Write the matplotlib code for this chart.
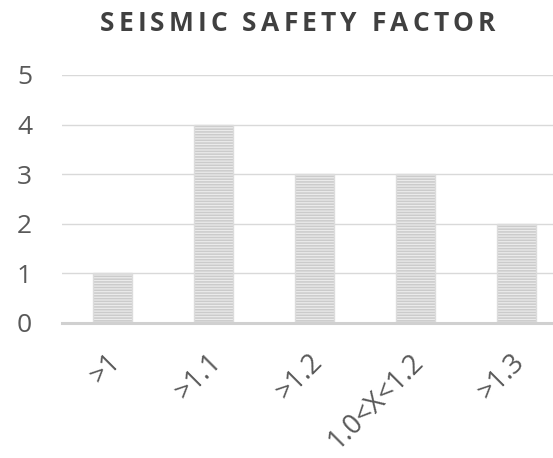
import matplotlib
matplotlib.use("Agg")
import matplotlib.pyplot as plt
from matplotlib.transforms import ScaledTranslation

categories = [">1", ">1.1", ">1.2", "1.0<X<1.2", ">1.3"]
values = [1, 4, 3, 3, 2]
yticks = [0, 1, 2, 3, 4, 5]
title = "SEISMIC SAFETY FACTOR"

plt.rcParams['font.family'] = ['Open Sans', 'DejaVu Sans']
plt.rcParams['hatch.linewidth'] = 1.1

W, H = 553, 458
fig = plt.figure(figsize=(W / 100, H / 100), dpi=100)
ax = fig.add_axes([62 / W, 1 - 323 / H, 1 - 62 / W, (323 - 75) / H])

x = list(range(len(categories)))
ax.bar(x, values, width=0.38, color="#ebebeb", edgecolor="#cbcbcb",
       hatch="------", linewidth=0, zorder=2)
ax.bar(x, values, width=0.38, fill=False, edgecolor="#dcdcdc",
       linewidth=1.0, zorder=3)

ax.set_xlim(-0.5, (W - 62) / 101 - 0.5)
ax.set_ylim(0, 5)
ax.set_yticks(yticks)
ax.set_yticklabels([str(v) for v in yticks], fontsize=19, color="#595959")
ax.tick_params(axis='y', length=0, pad=21.5)
ax.set_xticks(x)
ax.set_xticklabels(categories, rotation=45, ha='right', va='center',
                   rotation_mode='anchor', fontsize=19.5, color="#595959")
ax.tick_params(axis='x', length=0, pad=25)
shift = ScaledTranslation(4 / 100, 0, fig.dpi_scale_trans)
for lbl in ax.get_xticklabels():
    lbl.set_transform(lbl.get_transform() + shift)

ax.grid(axis='y', color="#d9d9d9", linewidth=1.0, zorder=0)
ax.set_axisbelow(True)
for s in ['top', 'right', 'left']:
    ax.spines[s].set_visible(False)
ax.spines['bottom'].set_color("#d0d0d0")
ax.spines['bottom'].set_linewidth(2.2)
ax.spines['bottom'].set_zorder(4)

# Letter-spaced title
fig.canvas.draw()
renderer = fig.canvas.get_renderer()
fs = 19
kw = dict(fontsize=fs, fontweight='bold', color="#404040", va='baseline')


def text_width(s):
    t = fig.text(0, 0, s, **kw)
    w = t.get_window_extent(renderer).width
    t.remove()
    return w


space_w = text_width("S S") - text_width("SS")
widths = [space_w if ch == " " else text_width(ch) for ch in title]
target_left, target_right = 100, 495
spacing = (target_right - target_left - sum(widths)) / (len(title) - 1)
xpos = target_left
ybase = 1 - 31 / H
for ch, w in zip(title, widths):
    if ch != " ":
        fig.text(xpos / W, ybase, ch, **kw)
    xpos += w + spacing

fig.savefig("out.png", dpi=100)
